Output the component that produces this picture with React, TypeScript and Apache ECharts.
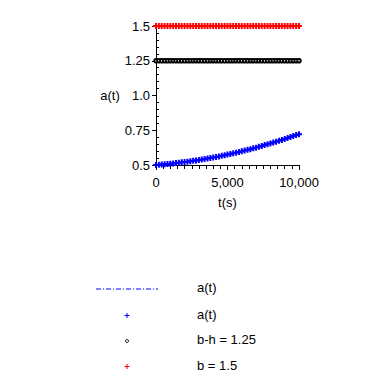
import React, { useEffect, useRef } from "react";
import * as echarts from "echarts";

const tValues = [
  0, 200, 400, 600, 800, 1000, 1200, 1400, 1600, 1800,
  2000, 2200, 2400, 2600, 2800, 3000, 3200, 3400, 3600, 3800,
  4000, 4200, 4400, 4600, 4800, 5000, 5200, 5400, 5600, 5800,
  6000, 6200, 6400, 6600, 6800, 7000, 7200, 7400, 7600, 7800,
  8000, 8200, 8400, 8600, 8800, 9000, 9200, 9400, 9600, 9800,
  10000,
];

const aValues = [
  0.500, 0.502, 0.503, 0.505, 0.507, 0.509, 0.511, 0.514, 0.516, 0.519,
  0.521, 0.524, 0.527, 0.530, 0.533, 0.536, 0.540, 0.543, 0.547, 0.550,
  0.554, 0.558, 0.562, 0.566, 0.571, 0.575, 0.579, 0.584, 0.589, 0.594,
  0.599, 0.604, 0.609, 0.614, 0.620, 0.625, 0.631, 0.637, 0.643, 0.649,
  0.655, 0.661, 0.667, 0.674, 0.680, 0.687, 0.694, 0.701, 0.708, 0.715,
  0.722,
];

const bhValues = [
  1.25, 1.25, 1.25, 1.25, 1.25, 1.25, 1.25, 1.25, 1.25, 1.25,
  1.25, 1.25, 1.25, 1.25, 1.25, 1.25, 1.25, 1.25, 1.25, 1.25,
  1.25, 1.25, 1.25, 1.25, 1.25, 1.25, 1.25, 1.25, 1.25, 1.25,
  1.25, 1.25, 1.25, 1.25, 1.25, 1.25, 1.25, 1.25, 1.25, 1.25,
  1.25, 1.25, 1.25, 1.25, 1.25, 1.25, 1.25, 1.25, 1.25, 1.25,
  1.25,
];

const bValues = [
  1.5, 1.5, 1.5, 1.5, 1.5, 1.5, 1.5, 1.5, 1.5, 1.5,
  1.5, 1.5, 1.5, 1.5, 1.5, 1.5, 1.5, 1.5, 1.5, 1.5,
  1.5, 1.5, 1.5, 1.5, 1.5, 1.5, 1.5, 1.5, 1.5, 1.5,
  1.5, 1.5, 1.5, 1.5, 1.5, 1.5, 1.5, 1.5, 1.5, 1.5,
  1.5, 1.5, 1.5, 1.5, 1.5, 1.5, 1.5, 1.5, 1.5, 1.5,
  1.5,
];

const legendLabels = ["a(t)", "a(t)", "b-h = 1.25", "b = 1.5"];
const xTickLabels: Record<number, string> = { 0: "0", 5000: "5,000", 10000: "10,000" };
const yTickLabels: Record<string, string> = { "0.5": "0.5", "0.75": "0.75", "1": "1.0", "1.25": "1.25", "1.5": "1.5" };

const FONT = "Liberation Sans, Arial, sans-serif";
const PLUS = "path://M2,0H4V2H6V4H4V6H2V4H0V2H2Z";

export default function App() {
  const ref = useRef<HTMLDivElement>(null);
  useEffect(() => {
    if (!ref.current) return;
    const chart = echarts.init(ref.current, null, { renderer: "svg" });
    const pair = (vals: number[]) => tValues.map((t, i) => [t, vals[i]]);
    const legendRowsY = [289, 315.5, 341, 366.5];
    const plus = (cx: number, cy: number, color: string) => ({
      type: "group",
      children: [
        { type: "line", shape: { x1: cx - 2.5, y1: cy, x2: cx + 2.5, y2: cy }, style: { stroke: color, lineWidth: 1 } },
        { type: "line", shape: { x1: cx, y1: cy - 2.5, x2: cx, y2: cy + 2.5 }, style: { stroke: color, lineWidth: 1 } },
      ],
    });
    chart.setOption({
      animation: false,
      backgroundColor: "#ffffff",
      textStyle: { fontFamily: FONT },
      grid: { left: 156, right: 83, top: 26, bottom: 217, containLabel: false },
      xAxis: {
        type: "value",
        min: 0,
        max: 10000,
        interval: 5000,
        name: "t(s)",
        nameLocation: "middle",
        nameGap: 31,
        nameTextStyle: { color: "#000", fontSize: 13, fontFamily: FONT },
        axisLine: { show: true, lineStyle: { color: "#000", width: 1 } },
        axisTick: { show: true, inside: false, length: 5, lineStyle: { color: "#000" } },
        minorTick: { show: true, splitNumber: 10, length: 4, lineStyle: { color: "#000" } },
        splitLine: { show: false },
        axisLabel: {
          color: "#000",
          fontSize: 13,
          fontFamily: FONT,
          margin: 11,
          formatter: (v: number) => xTickLabels[v] ?? "",
        },
      },
      yAxis: [
        {
          type: "value",
          position: "left",
          min: 0.5,
          max: 1.5,
          interval: 0.25,
          name: "a(t)",
          nameLocation: "middle",
          nameRotate: 0,
          nameGap: 36,
          nameTextStyle: { color: "#000", fontSize: 13, fontFamily: FONT },
          axisLine: { show: true, lineStyle: { color: "#000", width: 1 } },
          axisTick: { show: true, inside: false, length: 4, lineStyle: { color: "#000" } },
          splitLine: { show: false },
          axisLabel: {
            color: "#000",
            fontSize: 13,
            fontFamily: FONT,
            margin: 6,
            formatter: (v: number) => yTickLabels[String(v)] ?? "",
          },
        },
        {
          type: "value",
          position: "left",
          min: 0.5,
          max: 1.5,
          interval: 0.25,
          axisLine: { show: false },
          axisTick: { show: false, inside: true },
          minorTick: { show: true, splitNumber: 5, length: 3, lineStyle: { color: "#000" } },
          splitLine: { show: false },
          axisLabel: { show: false },
        },
      ],
      series: [
        {
          type: "line",
          yAxisIndex: 0,
          data: pair(aValues),
          showSymbol: false,
          symbol: "none",
          lineStyle: { color: "#0000ff", width: 1, type: [5, 2, 1, 2] },
          z: 1,
        },
        {
          type: "scatter",
          yAxisIndex: 0,
          data: pair(aValues),
          symbol: PLUS,
          symbolSize: 6,
          itemStyle: { color: "#0000ff", opacity: 1 },
          z: 2,
        },
        {
          type: "scatter",
          yAxisIndex: 0,
          data: pair(bhValues),
          symbol: "emptyCircle",
          symbolSize: 3.5,
          itemStyle: { color: "#000", borderColor: "#000", borderWidth: 1.6, opacity: 1 },
          z: 2,
        },
        {
          type: "scatter",
          yAxisIndex: 0,
          data: pair(bValues),
          symbol: PLUS,
          symbolSize: 6,
          itemStyle: { color: "#ff0000", opacity: 1 },
          z: 2,
        },
      ],
      graphic: [
        {
          type: "line",
          shape: { x1: 96, y1: legendRowsY[0], x2: 158, y2: legendRowsY[0] },
          style: { stroke: "#0000ff", lineWidth: 1, lineDash: [5, 2, 1, 2] },
        },
        plus(127, legendRowsY[1], "#0000ff"),
        {
          type: "circle",
          shape: { cx: 127, cy: legendRowsY[2], r: 1.5 },
          style: { fill: "none", stroke: "#000", lineWidth: 1 },
        },
        plus(127, legendRowsY[3], "#ff0000"),
        ...legendLabels.map((label, i) => ({
          type: "text",
          left: 197,
          top: legendRowsY[i] - 8,
          style: { text: label, fill: "#000", font: `13px ${FONT}` },
        })),
      ],
    });
    return () => chart.dispose();
  }, []);
  return (
    <div
      ref={ref}
      style={{ position: "fixed", left: 0, top: 0, width: 382, height: 382 }}
    />
  );
}
